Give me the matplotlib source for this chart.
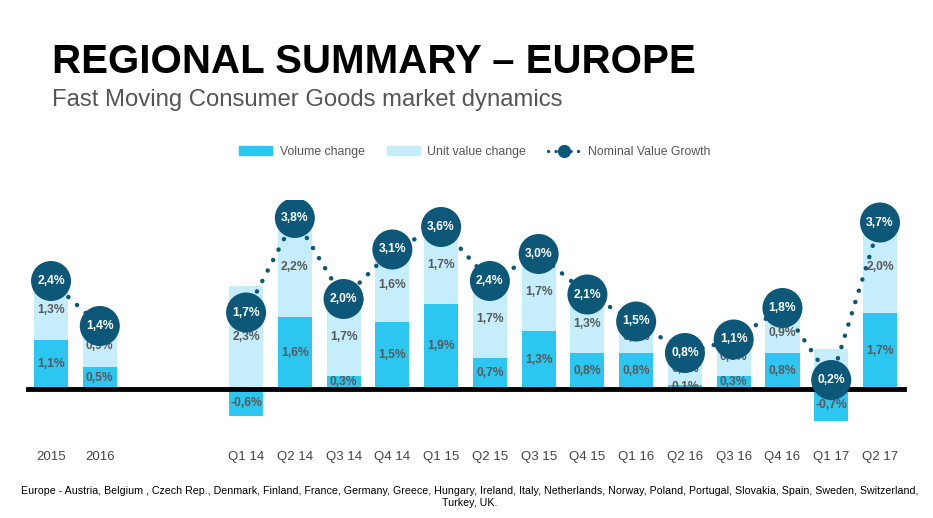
import matplotlib
matplotlib.use('Agg')
import matplotlib.pyplot as plt
from matplotlib.lines import Line2D
from matplotlib.patches import Patch
import numpy as np

# categories (two empty slots between the yearly and quarterly groups)
categories = ['2015', '2016', '', '', 'Q1 14', 'Q2 14', 'Q3 14', 'Q4 14', 'Q1 15', 'Q2 15',
              'Q3 15', 'Q4 15', 'Q1 16', 'Q2 16', 'Q3 16', 'Q4 16', 'Q1 17', 'Q2 17']
volume = [1.1, 0.5, None, None, -0.6, 1.6, 0.3, 1.5, 1.9, 0.7, 1.3, 0.8, 0.8, 0.1, 0.3, 0.8, -0.7, 1.7]
unit_value = [1.3, 0.9, None, None, 2.3, 2.2, 1.7, 1.6, 1.7, 1.7, 1.7, 1.3, 0.7, 0.7, 0.8, 0.9, 0.9, 2.0]
nominal = [2.4, 1.4, None, None, 1.7, 3.8, 2.0, 3.1, 3.6, 2.4, 3.0, 2.1, 1.5, 0.8, 1.1, 1.8, 0.2, 3.7]

VOL_C = '#2cc6f1'
UNIT_C = '#c6edfb'
NOM_C = '#0d5878'
LAB_C = '#595959'
DOTS = (0, (0.05, 2.6))

plt.rcParams['font.family'] = ['Liberation Sans', 'DejaVu Sans']

fig = plt.figure(figsize=(9.33, 5.18), dpi=100)
ax = fig.add_axes([24.2 / 933, 84 / 518, (906.8 - 24.2) / 933, 234 / 518])

x = np.arange(len(categories))
idx = [i for i in x if volume[i] is not None]
vol = np.array([volume[i] for i in idx])
uv = np.array([unit_value[i] for i in idx])
nom = np.array([nominal[i] for i in idx])
xs = np.array(idx)

w = 0.7
ax.bar(xs, vol, width=w, color=VOL_C, zorder=2)
ub = np.maximum(vol, 0)
ax.bar(xs, uv, bottom=ub, width=w, color=UNIT_C, zorder=1)

def fmt(v):
    return ('%.1f%%' % v).replace('.', ',')

for xi, v, u, b in zip(xs, vol, uv, ub):
    ax.text(xi, v / 2, fmt(v), ha='center', va='center', fontsize=8.7,
            fontweight='bold', color=LAB_C, zorder=3)
    ax.text(xi, b + u / 2, fmt(u), ha='center', va='center', fontsize=8.7,
            fontweight='bold', color=LAB_C, zorder=3)

ax.axhline(0, xmin=0.004, xmax=0.997, color='black', lw=3.5, zorder=4)

# nominal value growth: yearly pair and quarterly run are separate lines
for seg in (slice(0, 2), slice(2, None)):
    ax.plot(xs[seg], nom[seg], linestyle=DOTS, lw=3.2, color=NOM_C,
            dash_capstyle='round', zorder=5)
ax.scatter(xs, nom, s=830, color=NOM_C, zorder=6, edgecolors='none')
for xi, n in zip(xs, nom):
    ax.text(xi, n, fmt(n), ha='center', va='center', fontsize=8.7,
            fontweight='bold', color='white', zorder=7)

ax.set_xlim(-0.55, 17.55)
ax.set_ylim(-1.0, 4.2)
ax.set_xticks(idx)
ax.set_xticklabels([categories[i] for i in idx], fontsize=9.5, color='#444444')
ax.tick_params(axis='x', length=0, pad=12)
ax.set_yticks([])
for s in ax.spines.values():
    s.set_visible(False)

fig.text(52 / 933, 1 - 62 / 518, 'REGIONAL SUMMARY \u2013 EUROPE', fontsize=29,
         fontweight='bold', color='black', va='center', ha='left')
fig.text(52 / 933, 1 - 100 / 518, 'Fast Moving Consumer Goods market dynamics',
         fontsize=17.2, color='#555555', va='center', ha='left')

handles = [Patch(color=VOL_C, label='Volume change'),
           Patch(color=UNIT_C, label='Unit value change'),
           Line2D([0], [0], color=NOM_C, linestyle=(0, (0.05, 2.2)), lw=2.4, dash_capstyle='round',
                  marker='o', markersize=8.5, markevery=[1], label='Nominal Value Growth')]
leg = fig.legend(handles=handles, loc='center', bbox_to_anchor=(475 / 933, 1 - 152 / 518),
                 ncol=3, frameon=False, fontsize=8.8, handlelength=2.7, handleheight=0.7,
                 columnspacing=1.8, handletextpad=0.6)
for t in leg.get_texts():
    t.set_color('#555555')

foot = ('Europe - Austria, Belgium , Czech Rep., Denmark, Finland, France, Germany, Greece, Hungary, '
        'Ireland, Italy, Netherlands, Norway, Poland, Portugal, Slovakia, Spain, Sweden, Switzerland,\n'
        'Turkey, UK.')
fig.text(470 / 933, 1 - 497 / 518, foot, fontsize=7.65, ha='center', va='center',
         linespacing=1.3, color='black')

fig.savefig('out.png', dpi=100)
